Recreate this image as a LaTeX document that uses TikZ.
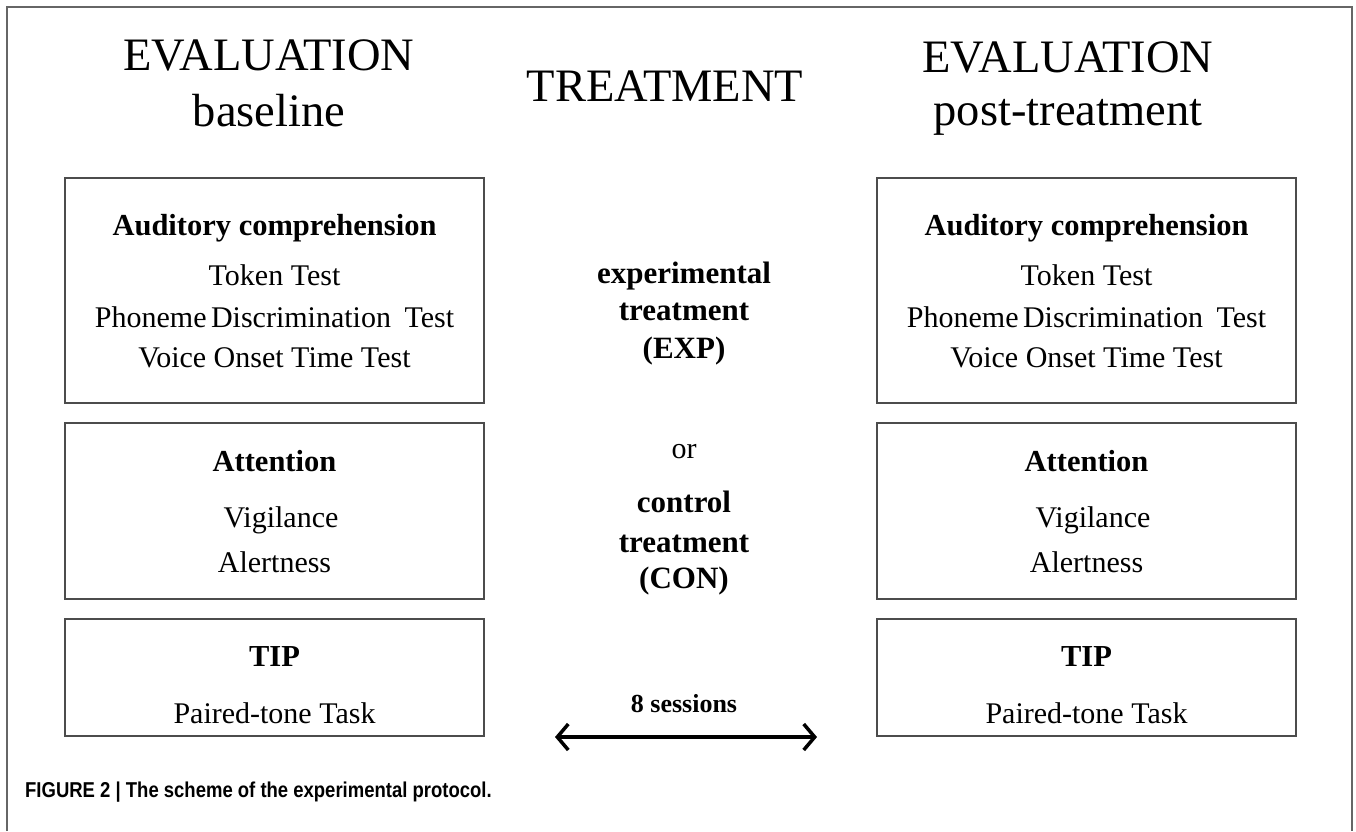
\documentclass[tikz,border=0pt]{standalone}
\usepackage{fontspec}
\setmainfont{Liberation Serif}
\newfontfamily\capfont[FakeStretch=0.86]{Liberation Sans}
\usetikzlibrary{arrows.meta}
\begin{document}
\begin{tikzpicture}[x=1pt,y=-1pt,
  box/.style={draw=black!70, line width=1.6pt, inner sep=0pt, minimum width=419pt},
  title/.style={font=\fontsize{46.5}{46.5}\selectfont, anchor=base, inner sep=0pt},
  head/.style={font=\fontsize{30.5}{30.5}\selectfont\bfseries, anchor=base, inner sep=0pt},
  item/.style={font=\fontsize{30}{30}\selectfont, anchor=base, inner sep=0pt},
  mid/.style={font=\fontsize{31}{31}\selectfont\bfseries, anchor=base, inner sep=0pt},
  frame/.style={draw=black!60, line width=1.5pt},
  dur/.style={line width=3.5pt, {Straight Barb[length=11pt,width=26pt]}-{Straight Barb[length=11pt,width=26pt]}}
]
\useasboundingbox (0,0) rectangle (1356,831);
\draw[frame] (7,831) -- (7,7) -- (1352,7) -- (1352,831);

% titles
\node[title] (t1a) at (269,70) {EVALUATION};
\node[title] (t1b) at (269,126) {baseline};
\node[title] (t2) at (665,101) {TREATMENT};
\node[title] (t3a) at (1068,72) {EVALUATION};
\node[title] (t3b) at (1068,125) {post-treatment};

% left boxes
\node[box, minimum height=225pt] (lb1) at (274.5,290.5) {};
\node[box, minimum height=176pt] (lb2) at (274.5,511) {};
\node[box, minimum height=117pt] (lb3) at (274.5,677.5) {};
% right boxes
\node[box, minimum height=225pt] (rb1) at (1086.5,290.5) {};
\node[box, minimum height=176pt] (rb2) at (1086.5,511) {};
\node[box, minimum height=117pt] (rb3) at (1086.5,677.5) {};

% left texts
\node[head] (lh1) at (274.5,235) {Auditory comprehension};
\node[item] (li1) at (274.5,285) {Token Test};
\node[item] (li2) at (274.5,327) {Phoneme\hspace{0.15em}Discrimination\hspace{0.45em}Test};
\node[item] (li3) at (274.5,367) {Voice Onset Time Test};
\node[head] (lh2) at (274.5,471) {Attention};
\node[item] (li4) at (281,527) {Vigilance};
\node[item] (li5) at (274.5,572) {Alertness};
\node[head] (lh3) at (274.5,666) {TIP};
\node[item] (li6) at (274.5,723) {Paired-tone Task};

% right texts
\node[head] (rh1) at (1086.5,235) {Auditory comprehension};
\node[item] (ri1) at (1086.5,285) {Token Test};
\node[item] (ri2) at (1086.5,327) {Phoneme\hspace{0.15em}Discrimination\hspace{0.45em}Test};
\node[item] (ri3) at (1086.5,367) {Voice Onset Time Test};
\node[head] (rh2) at (1086.5,471) {Attention};
\node[item] (ri4) at (1093,527) {Vigilance};
\node[item] (ri5) at (1086.5,572) {Alertness};
\node[head] (rh3) at (1086.5,666) {TIP};
\node[item] (ri6) at (1086.5,723) {Paired-tone Task};

% middle
\node[mid] (m1) at (684,283) {experimental};
\node[mid] (m2) at (684,320) {treatment};
\node[mid] (m3) at (684,358) {(EXP)};
\node[item] (m4) at (684,458) {or};
\node[mid] (m5) at (684,512) {control};
\node[mid] (m6) at (684,552) {treatment};
\node[mid] (m7) at (684,588) {(CON)};
\node[font=\fontsize{26}{26}\selectfont\bfseries, anchor=base, inner sep=0pt] (ses) at (684,712) {8 sessions};
\coordinate (al) at (555,737);
\coordinate (ar) at (817,737);
\draw[dur] (al) -- (ar);

% caption
\node[anchor=base west, inner sep=0pt, font=\capfont\bfseries\fontsize{21.5}{21.5}\selectfont] (cap) at (25,797) {FIGURE 2 | The scheme of the experimental protocol.};
\end{tikzpicture}
\end{document}
